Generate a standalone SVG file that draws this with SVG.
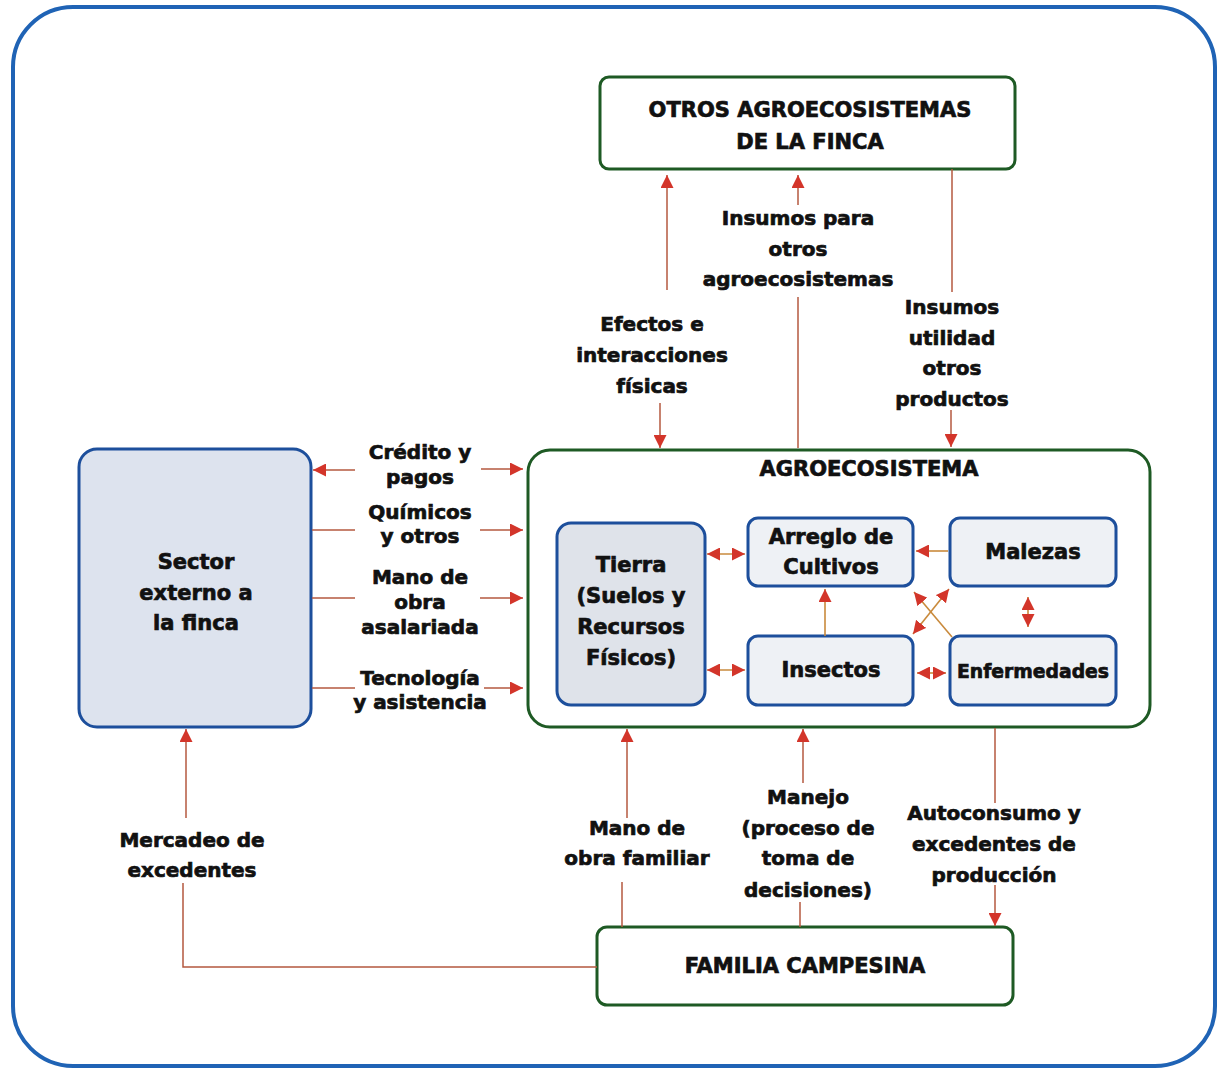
<svg xmlns="http://www.w3.org/2000/svg" width="1221" height="1072" viewBox="0 0 1221 1072">
  <style>
    .t{font-family:"DejaVu Sans","Liberation Sans",sans-serif;font-weight:bold;fill:#111;stroke:#111;stroke-width:0.7;text-anchor:middle}
    .lbl{font-size:20px}
    .ttl{font-size:21px}
    .frame{fill:none;stroke:#1f63b5;stroke-width:4}
    .gbox{fill:#fff;stroke:#1e5a24;stroke-width:3}
    .bbox{stroke:#1d4f9c;stroke-width:3}
    .c{fill:none;stroke:#b4583f;stroke-width:1.5}
    .ci{fill:none;stroke:#c98a3c;stroke-width:1.6}
  </style>
  <defs>
    <marker id="ah" viewBox="0 0 10 10" refX="10" refY="5" markerWidth="13" markerHeight="13" markerUnits="userSpaceOnUse" orient="auto-start-reverse">
      <path d="M0,0 L10,5 L0,10 z" fill="#d3352a" stroke="none"/>
    </marker>
  </defs>

  <rect width="1221" height="1072" fill="#fff"/>
  <rect class="frame" x="13" y="7" width="1202" height="1059" rx="60"/>

  <!-- nodes -->
  <g id="otros">
    <rect class="gbox" x="600" y="77" width="415" height="92" rx="9"/>
    <text class="t ttl" x="810" y="117">OTROS AGROECOSISTEMAS</text>
    <text class="t ttl" x="810" y="149">DE LA FINCA</text>
  </g>

  <g id="sector">
    <rect class="bbox" x="79" y="449" width="232" height="278" rx="18" fill="#dde3ee"/>
    <text class="t ttl" x="196" y="569">Sector</text>
    <text class="t ttl" x="196" y="600">externo a</text>
    <text class="t ttl" x="196" y="630">la finca</text>
  </g>

  <g id="agroecosistema">
    <rect class="gbox" x="528" y="450" width="622" height="277" rx="22"/>
    <text class="t ttl" x="869" y="476">AGROECOSISTEMA</text>
  </g>

  <g id="tierra">
    <rect class="bbox" x="557" y="523" width="148" height="182" rx="14" fill="#dfe3ea"/>
    <text class="t ttl" x="631" y="572">Tierra</text>
    <text class="t ttl" x="631" y="603">(Suelos y</text>
    <text class="t ttl" x="631" y="634">Recursos</text>
    <text class="t ttl" x="631" y="665">Físicos)</text>
  </g>

  <g id="arreglo">
    <rect class="bbox" x="748" y="518" width="165" height="68" rx="10" fill="#eef1f5"/>
    <text class="t ttl" x="831" y="544">Arreglo de</text>
    <text class="t ttl" x="831" y="574">Cultivos</text>
  </g>

  <g id="malezas">
    <rect class="bbox" x="950" y="518" width="166" height="68" rx="10" fill="#eef1f5"/>
    <text class="t ttl" x="1033" y="559">Malezas</text>
  </g>

  <g id="insectos">
    <rect class="bbox" x="748" y="636" width="165" height="69" rx="10" fill="#eef1f5"/>
    <text class="t ttl" x="831" y="677">Insectos</text>
  </g>

  <g id="enfermedades">
    <rect class="bbox" x="950" y="636" width="166" height="69" rx="10" fill="#eef1f5"/>
    <text class="t" x="1033" y="678" font-size="19" textLength="152" lengthAdjust="spacingAndGlyphs">Enfermedades</text>
  </g>

  <g id="familia">
    <rect class="gbox" x="597" y="927" width="416" height="78" rx="10"/>
    <text class="t ttl" x="805" y="973">FAMILIA CAMPESINA</text>
  </g>

  <!-- edge labels -->
  <g id="labels" class="t lbl">
    <text x="652" y="331">Efectos e</text>
    <text x="652" y="362">interacciones</text>
    <text x="652" y="393">físicas</text>
    <text x="798" y="225">Insumos para</text>
    <text x="798" y="256">otros</text>
    <text x="798" y="286">agroecosistemas</text>
    <text x="952" y="314">Insumos</text>
    <text x="952" y="345">utilidad</text>
    <text x="952" y="375">otros</text>
    <text x="952" y="406">productos</text>

    <text x="420" y="459">Crédito y</text>
    <text x="420" y="484">pagos</text>
    <text x="420" y="519">Químicos</text>
    <text x="420" y="543">y otros</text>
    <text x="420" y="584">Mano de</text>
    <text x="420" y="609">obra</text>
    <text x="420" y="634">asalariada</text>
    <text x="420" y="685">Tecnología</text>
    <text x="420" y="709">y asistencia</text>

    <text x="637" y="835">Mano de</text>
    <text x="637" y="865">obra familiar</text>
    <text x="808" y="804">Manejo</text>
    <text x="808" y="835">(proceso de</text>
    <text x="808" y="865">toma de</text>
    <text x="808" y="897">decisiones)</text>
    <text x="994" y="820">Autoconsumo y</text>
    <text x="994" y="851">excedentes de</text>
    <text x="994" y="882">producción</text>
    <text x="192" y="847">Mercadeo de</text>
    <text x="192" y="877">excedentes</text>
  </g>

  <!-- connectors -->
  <g id="connectors">
    <!-- between the agroecosystem and the other farm agroecosystems -->
    <path class="c" d="M667,290 V175" marker-end="url(#ah)"/>
    <path class="c" d="M660,403 V448" marker-end="url(#ah)"/>
    <path class="c" d="M798,205 V175" marker-end="url(#ah)"/>
    <path class="c" d="M798,297 V448"/>
    <path class="c" d="M952,169 V292"/>
    <path class="c" d="M951,410 V447" marker-end="url(#ah)"/>

    <!-- external sector flows -->
    <path class="c" d="M355,470 H313" marker-end="url(#ah)"/>
    <path class="c" d="M481,469 H523" marker-end="url(#ah)"/>
    <path class="c" d="M312,530 H355"/>
    <path class="c" d="M480,530 H523" marker-end="url(#ah)"/>
    <path class="c" d="M312,598 H355"/>
    <path class="c" d="M480,598 H523" marker-end="url(#ah)"/>
    <path class="c" d="M312,688 H355"/>
    <path class="c" d="M484,688 H523" marker-end="url(#ah)"/>

    <!-- family flows -->
    <path class="c" d="M627,818 V729" marker-end="url(#ah)"/>
    <path class="c" d="M622,882 V927"/>
    <path class="c" d="M803,783 V729" marker-end="url(#ah)"/>
    <path class="c" d="M800,902 V927"/>
    <path class="c" d="M995,728 V803"/>
    <path class="c" d="M995,885 V926" marker-end="url(#ah)"/>
    <path class="c" d="M186,818 V729" marker-end="url(#ah)"/>
    <path class="c" d="M183,883 V967 H597"/>

    <!-- interactions inside the agroecosystem -->
    <path class="ci" d="M707,554 H745" marker-start="url(#ah)" marker-end="url(#ah)"/>
    <path class="ci" d="M707,670 H745" marker-start="url(#ah)" marker-end="url(#ah)"/>
    <path class="ci" d="M948,551 H916" marker-end="url(#ah)"/>
    <path class="ci" d="M825,636 V589" marker-end="url(#ah)"/>
    <path class="ci" d="M1028,597 V627" marker-start="url(#ah)" marker-end="url(#ah)"/>
    <path class="ci" d="M917,673 H946" marker-start="url(#ah)" marker-end="url(#ah)"/>
    <path class="ci" d="M952,637 L914,592" marker-end="url(#ah)"/>
    <path class="ci" d="M913,634 L949,589" marker-start="url(#ah)" marker-end="url(#ah)"/>
  </g>
</svg>
